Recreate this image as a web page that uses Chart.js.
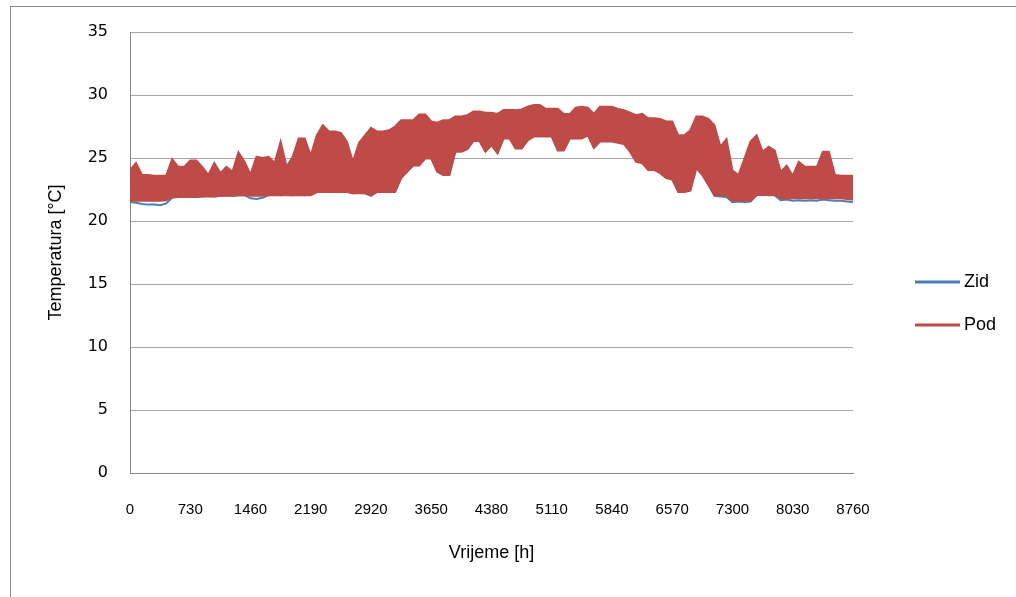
<!DOCTYPE html>
<html>
<head>
<meta charset="utf-8">
<script src="https://cdn.jsdelivr.net/npm/chart.js@4.4.1/dist/chart.umd.min.js"></script>
<style>
    html, body { margin: 0; padding: 0; background: #fff; }
    #wrap { position: relative; width: 1016px; height: 597px; overflow: hidden; }
    #frame { position: absolute; left: 10px; top: 6px; width: 1200px; height: 800px; border-left: 1px solid #8c8c8c; border-top: 1px solid #8c8c8c; }
    canvas { position: absolute; left: 0; top: 0; }
</style>
</head>
<body>
<div id="wrap">
    <div id="frame"></div>
    <canvas id="chart" width="1016" height="597"></canvas>
</div>
<script>
// hourly simulation, every 73 h (upper / lower edge of the daily swing)
const podHigh = [
    24.05, 24.6, 23.65, 23.65, 23.6, 23.6, 23.6, 24.9, 24.3, 24.3,
    24.8, 24.8, 24.3, 23.65, 24.6, 23.8, 24.3, 23.9, 25.45, 24.7,
    23.7, 25.1, 25.0, 25.1, 24.6, 26.3, 24.3, 25.1, 26.55, 26.55,
    25.2, 26.8, 27.6, 27.1, 27.1, 27.0, 26.3, 24.7, 26.2, 26.8,
    27.4, 27.1, 27.1, 27.2, 27.5, 28.0, 28.0, 28.0, 28.45, 28.45,
    27.9, 27.8, 28.0, 28.0, 28.3, 28.3, 28.4, 28.7, 28.7, 28.6,
    28.6, 28.5, 28.8, 28.8, 28.8, 28.85, 29.07, 29.2, 29.2, 28.9,
    28.9, 28.9, 28.5, 28.5, 29.0, 29.07, 29.0, 28.5, 29.07, 29.07,
    29.07, 28.9, 28.8, 28.6, 28.4, 28.5, 28.15, 28.15, 28.1, 27.9,
    27.9, 26.8, 26.8, 27.2, 28.3, 28.3, 28.1, 27.6, 25.9, 26.5,
    24.0, 23.65, 24.97, 26.3, 26.8, 25.5, 25.9, 25.6, 23.9, 24.4,
    23.6, 24.7, 24.3, 24.3, 24.3, 25.5, 25.5, 23.65, 23.6, 23.6,
    23.6,
];
const podLow = [
    21.6, 21.6, 21.6, 21.6, 21.6, 21.6, 21.65, 21.9, 21.9, 21.9,
    21.9, 21.9, 21.95, 21.95, 21.95, 22.0, 22.0, 22.0, 22.05, 22.05,
    22.0, 22.0, 22.0, 22.05, 22.05, 22.05, 22.05, 22.05, 22.05, 22.05,
    22.05, 22.3, 22.3, 22.3, 22.3, 22.3, 22.3, 22.2, 22.2, 22.2,
    22.06, 22.3, 22.3, 22.3, 22.3, 23.4, 23.9, 24.4, 24.4, 24.97,
    24.97, 23.9, 23.65, 23.65, 25.5, 25.5, 25.7, 26.35, 26.35, 25.5,
    26.0, 25.37, 26.55, 26.55, 25.75, 25.75, 26.4, 26.7, 26.7, 26.7,
    26.7, 25.6, 25.6, 26.55, 26.55, 26.55, 26.8, 25.8, 26.3, 26.3,
    26.3, 26.2, 26.1, 25.5, 24.7, 24.6, 24.05, 24.05, 23.8, 23.4,
    23.3, 22.3, 22.3, 22.4, 24.2, 23.65, 22.86, 22.06, 22.06, 22.0,
    21.6, 21.6, 21.6, 21.6, 22.06, 22.06, 22.06, 22.06, 21.8, 21.8,
    21.8, 21.8, 21.8, 21.8, 21.8, 21.8, 21.8, 21.8, 21.8, 21.75,
    21.7,
];
// the wall series runs under the floor one and only shows where it dips below it
const zidLow = [
    21.5, 21.45, 21.35, 21.3, 21.3, 21.25, 21.4, 21.85, 21.9, 21.95,
    21.9, 21.95, 21.95, 22.0, 21.95, 22.0, 22.05, 22.0, 22.05, 22.05,
    21.8, 21.75, 21.85, 22.05, 22.1, 22.05, 22.1, 22.05, 22.1, 22.05,
    22.1, 22.3, 22.35, 22.3, 22.35, 22.3, 22.35, 22.2, 22.25, 22.2,
    22.0, 22.3, 22.35, 22.3, 22.35, 23.45, 23.95, 24.45, 24.45, 25.0,
    25.0, 23.95, 23.7, 23.7, 25.55, 25.55, 25.75, 26.4, 26.4, 25.55,
    26.05, 25.4, 26.6, 26.6, 25.8, 25.8, 26.45, 26.75, 26.75, 26.75,
    26.75, 25.65, 25.65, 26.6, 26.6, 26.6, 26.85, 25.85, 26.35, 26.35,
    26.35, 26.25, 26.15, 25.55, 24.75, 24.65, 24.1, 24.1, 23.85, 23.45,
    23.35, 22.35, 22.35, 22.45, 24.25, 23.7, 22.9, 22.0, 21.95, 21.9,
    21.5, 21.55, 21.5, 21.55, 22.05, 22.1, 22.05, 22.05, 21.65, 21.7,
    21.6, 21.65, 21.6, 21.65, 21.6, 21.7, 21.65, 21.6, 21.6, 21.55,
    21.5,
];
const hours = podHigh.map((_, i) => i * 73);

const xTicks = [0, 730, 1460, 2190, 2920, 3650, 4380, 5110, 5840, 6570, 7300, 8030, 8760];
const yTicks = [0, 5, 10, 15, 20, 25, 30, 35];

const zidColor = '#4a7ebb';
const podColor = '#be4b48';

const toPoints = (values) => values.map((y, i) => ({ x: hours[i], y }));

// legend drawn at the right like the spreadsheet one
const sideLegend = {
    id: 'sideLegend',
    afterDraw(chart) {
        const ctx = chart.ctx;
        const items = [
            { label: 'Zid', color: zidColor },
            { label: 'Pod', color: podColor },
        ];
        ctx.save();
        ctx.font = '18px "Liberation Sans", Arial, sans-serif';
        ctx.textBaseline = 'middle';
        items.forEach((item, i) => {
            const y = 282 + i * 43;
            ctx.strokeStyle = item.color;
            ctx.lineWidth = 3;
            ctx.beginPath();
            ctx.moveTo(915, y);
            ctx.lineTo(960, y);
            ctx.stroke();
            ctx.fillStyle = '#000';
            ctx.fillText(item.label, 964, y);
        });
        ctx.restore();
    },
};

new Chart(document.getElementById('chart'), {
    type: 'line',
    data: {
        datasets: [
            {
                label: 'Pod',
                data: toPoints(podHigh),
                borderColor: podColor,
                backgroundColor: podColor,
                borderWidth: 2,
                pointRadius: 0,
                tension: 0,
                fill: '+1',
                order: 0,
            },
            {
                label: 'Pod (min)',
                data: toPoints(podLow),
                borderColor: podColor,
                backgroundColor: podColor,
                borderWidth: 2,
                pointRadius: 0,
                tension: 0,
                fill: false,
                order: 0,
            },
            {
                label: 'Zid',
                data: toPoints(zidLow),
                borderColor: zidColor,
                backgroundColor: zidColor,
                borderWidth: 2,
                pointRadius: 0,
                tension: 0,
                fill: false,
                order: 1,
            },
        ],
    },
    options: {
        responsive: false,
        animation: false,
        layout: {
            padding: { top: 32, right: 163, left: 0, bottom: 0 },
        },
        plugins: {
            legend: { display: false },
            tooltip: { enabled: false },
        },
        scales: {
            x: {
                type: 'linear',
                min: 0,
                max: 8760,
                afterFit: (scale) => { scale.height = 124; },
                afterBuildTicks: (scale) => { scale.ticks = xTicks.map((value) => ({ value })); },
                ticks: {
                    autoSkip: false,
                    maxRotation: 0,
                    padding: 28,
                    color: '#000',
                    font: { family: '"Liberation Sans", Arial, sans-serif', size: 15 },
                    callback: (value) => String(value),
                },
                grid: { display: false, drawTicks: false },
                border: { display: true, color: '#868686', width: 1 },
                title: {
                    display: true,
                    text: 'Vrijeme [h]',
                    color: '#000',
                    font: { family: '"Liberation Sans", Arial, sans-serif', size: 18 },
                    padding: { top: 0, bottom: 33 },
                },
            },
            y: {
                min: 0,
                max: 35,
                afterFit: (scale) => { scale.width = 130; },
                afterBuildTicks: (scale) => { scale.ticks = yTicks.map((value) => ({ value })); },
                ticks: {
                    padding: 22,
                    color: '#000',
                    font: { family: '"DejaVu Sans", Verdana, sans-serif', size: 16 },
                },
                grid: { color: '#a6a6a6', lineWidth: 1, drawTicks: false },
                border: { display: true, color: '#868686', width: 1 },
                title: {
                    display: true,
                    text: 'Temperatura [°C]',
                    color: '#000',
                    font: { family: '"Liberation Sans", Arial, sans-serif', size: 18 },
                    padding: { top: 45, bottom: 0 },
                },
            },
        },
    },
    plugins: [sideLegend],
});
</script>
</body>
</html>
